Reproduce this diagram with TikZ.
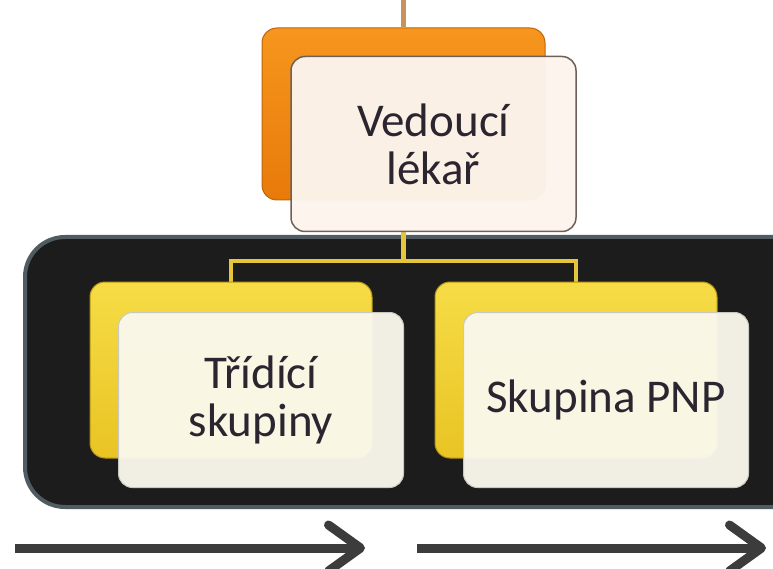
\documentclass[tikz,border=0pt]{standalone}
\usepackage{fontspec}
\setmainfont{Carlito}
\usepackage{tikz}
\usetikzlibrary{arrows.meta}
\definecolor{orangetop}{RGB}{246,150,30}
\definecolor{orangebot}{RGB}{232,122,10}
\definecolor{orangerim}{RGB}{190,100,10}
\definecolor{yellowtop}{RGB}{246,220,70}
\definecolor{yellowbot}{RGB}{233,196,36}
\definecolor{yellowrim}{RGB}{180,150,20}
\definecolor{peach}{RGB}{252,244,236}
\definecolor{peachrim}{RGB}{110,96,86}
\definecolor{cream}{RGB}{250,248,236}
\definecolor{creamrim}{RGB}{200,200,192}
\definecolor{panelfill}{RGB}{28,28,28}
\definecolor{panelrim}{RGB}{80,92,98}
\definecolor{tanline}{RGB}{200,147,90}
\definecolor{busyellow}{RGB}{229,197,58}
\definecolor{arrowgray}{RGB}{60,60,60}
\definecolor{inktext}{RGB}{43,37,48}
\pgfdeclarelayer{back}
\pgfsetlayers{back,main}

\begin{document}
\begin{tikzpicture}[x=1pt, y=-1pt,
		backorange/.style={rectangle, rounded corners=15pt, minimum width=283pt, minimum height=172pt, top color=orangetop, bottom color=orangebot, draw=orangerim, line width=1pt},
		backyellow/.style={rectangle, rounded corners=15pt, minimum width=282pt, minimum height=176pt, top color=yellowtop, bottom color=yellowbot, draw=yellowrim, line width=1pt},
		frontpeach/.style={rectangle, rounded corners=14pt, minimum width=285pt, minimum height=175pt, fill=peach, fill opacity=0.97, text opacity=1, draw=peachrim, line width=1.5pt, text=inktext, align=center, font=\fontsize{47}{48}\selectfont},
		frontcream/.style={rectangle, rounded corners=14pt, minimum width=285pt, minimum height=175pt, fill=cream, fill opacity=0.96, text opacity=1, draw=creamrim, line width=1pt, text=inktext, align=center, font=\fontsize{47}{48}\selectfont},
		panel/.style={fill=panelfill, draw=panelrim, line width=4pt, rounded corners=40pt},
		topline/.style={draw=tanline, line width=5pt},
		busline/.style={draw=busyellow, line width=4.5pt},
		flow/.style={draw=arrowgray, line width=9pt, -{Straight Barb[length=32pt, width=46pt, round]}}]
		\useasboundingbox (0,0) rectangle (773,569);
		
		\node[backorange] (vedouciback) at (403.5,114) {};
		\node[frontpeach, shift={(30,30)}] (vedouci) at (vedouciback) {Vedoucí\\lékař};
		
		\node[backyellow] (tridiciback) at (231,370) {};
		\node[frontcream, shift={(30,30)}] (tridici) at (tridiciback) {Třídící\\skupiny};
		
		\node[backyellow] (pnpback) at (576,370) {};
		\node[frontcream, shift={(30,30)}] (pnp) at (pnpback) {Skupina PNP};
		
		\coordinate (top) at (403.5,0);
		\coordinate (bus) at (0,261);
		\coordinate (flowAstart) at (15,548);
		\coordinate (flowAend) at (365,548);
		\coordinate (flowBstart) at (417,548);
		\coordinate (flowBend) at (766,548);
		
		\begin{pgfonlayer}{back}
			\begin{scope}
				\clip (0,0) rectangle (773,569);
				\draw[panel] (25,237) rectangle (840,507);
			\end{scope}
			\draw[topline] (top) -- (vedouciback.north);
			\draw[busline] (vedouciback.south |- vedouci.south) -- (vedouciback.south |- bus);
			\draw[busline] (tridiciback.north) -- (tridiciback.north |- bus) -- (pnpback.north |- bus) -- (pnpback.north);
		\end{pgfonlayer}
		
		\draw[flow] (flowAstart) -- (flowAend);
		\draw[flow] (flowBstart) -- (flowBend);
	\end{tikzpicture}
\end{document}
